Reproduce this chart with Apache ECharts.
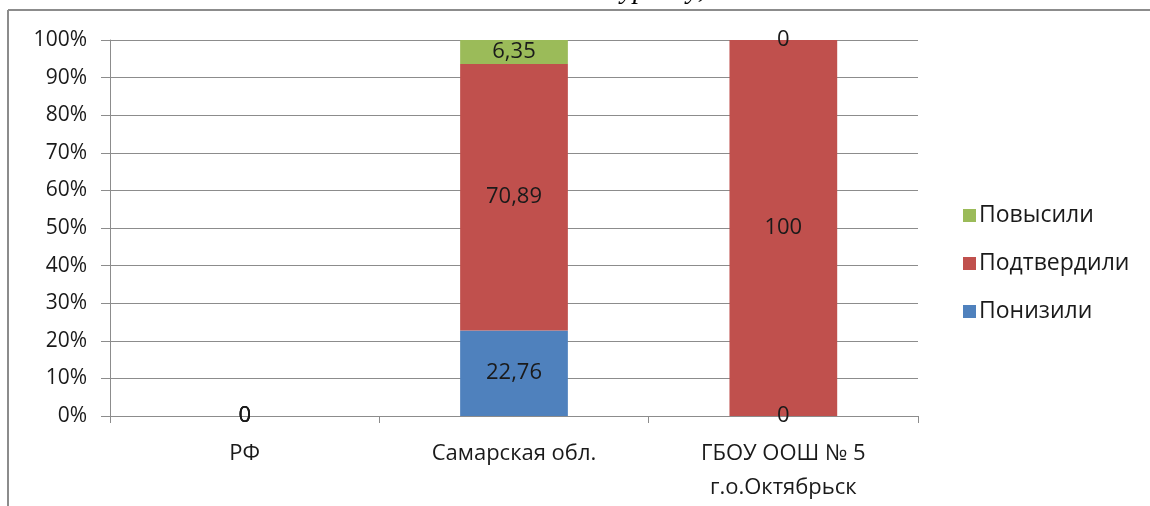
<!DOCTYPE html>
<html><head><meta charset="utf-8">
<script src="https://cdn.jsdelivr.net/npm/echarts@6/dist/echarts.min.js"></script>
<style>html,body{margin:0;padding:0;background:#fff;}#c{width:1150px;height:506px;}</style>
</head><body><div id="c"></div>
<script>
const categories = ['РФ', 'Самарская обл.', 'ГБОУ ООШ № 5\nг.о.Октябрьск'];
const lowered = [0, 22.76, 0];     // Понизили
const confirmed = [0, 70.89, 100]; // Подтвердили
const raised = [0, 6.35, 0];       // Повысили
const seriesNames = ['Понизили', 'Подтвердили', 'Повысили'];
const colors = ['#4F81BD', '#C0504D', '#9BBB59'];
const yTicks = [0, 10, 20, 30, 40, 50, 60, 70, 80, 90, 100];

const font = 'Open Sans';
const chart = echarts.init(document.getElementById('c'), null, {renderer: 'canvas'});
const lbl = {
  show: true, position: 'inside', color: '#1a1a1a', fontSize: 22, fontFamily: font,
  formatter: p => String(p.value).replace('.', ',')
};
const data = [lowered, confirmed, raised];
chart.setOption({
  animation: false,
  backgroundColor: '#fff',
  graphic: [
    {type: 'text', x: 735, y: 5, z: 1,
     style: {text: 'тов с отметками по журналу, %', font: 'italic 28px "Liberation Serif"',
             fill: '#000', textAlign: 'right', textVerticalAlign: 'bottom', verticalAlign: 'bottom'}},
    {type: 'rect', shape: {x: 0, y: 9, width: 1150, height: 8}, style: {fill: '#fff'}, z: 2},
    {type: 'line', shape: {x1: 8, y1: 10, x2: 1150, y2: 10}, style: {stroke: '#8c8c8c', lineWidth: 2}, z: 3},
    {type: 'line', shape: {x1: 8, y1: 10, x2: 8, y2: 506}, style: {stroke: '#8c8c8c', lineWidth: 2}, z: 3}
  ],
  grid: {left: 110, right: 232, top: 40, bottom: 90},
  legend: {
    orient: 'vertical', left: 958, top: 199, itemGap: 25,
    itemWidth: 13, itemHeight: 13, icon: 'rect',
    data: ['Повысили', 'Подтвердили', 'Понизили'],
    textStyle: {fontSize: 23, lineHeight: 22, fontFamily: font, color: '#1a1a1a', padding: [0, 0, 0, -2]}
  },
  xAxis: {
    type: 'category', data: categories,
    axisLine: {lineStyle: {color: '#8c8c8c', width: 1}},
    axisTick: {show: true, length: 7, lineStyle: {color: '#8c8c8c'}},
    axisLabel: {fontSize: 22, fontFamily: font, color: '#1a1a1a', margin: 21, lineHeight: 34}
  },
  yAxis: {
    type: 'value', min: 0, max: 100, interval: 10,
    axisLine: {show: true, lineStyle: {color: '#8c8c8c'}},
    axisTick: {show: true, length: 9, lineStyle: {color: '#8c8c8c'}},
    axisLabel: {fontSize: 21, fontFamily: font, color: '#1a1a1a', margin: 23,
      formatter: v => yTicks.includes(v) ? v + '%' : ''},
    splitLine: {lineStyle: {color: '#8c8c8c'}}
  },
  series: seriesNames.map((n, i) => ({
    name: n, type: 'bar', stack: 's', barWidth: '40%',
    itemStyle: {color: colors[i]},
    label: lbl,
    data: data[i]
  }))
});
</script></body></html>
